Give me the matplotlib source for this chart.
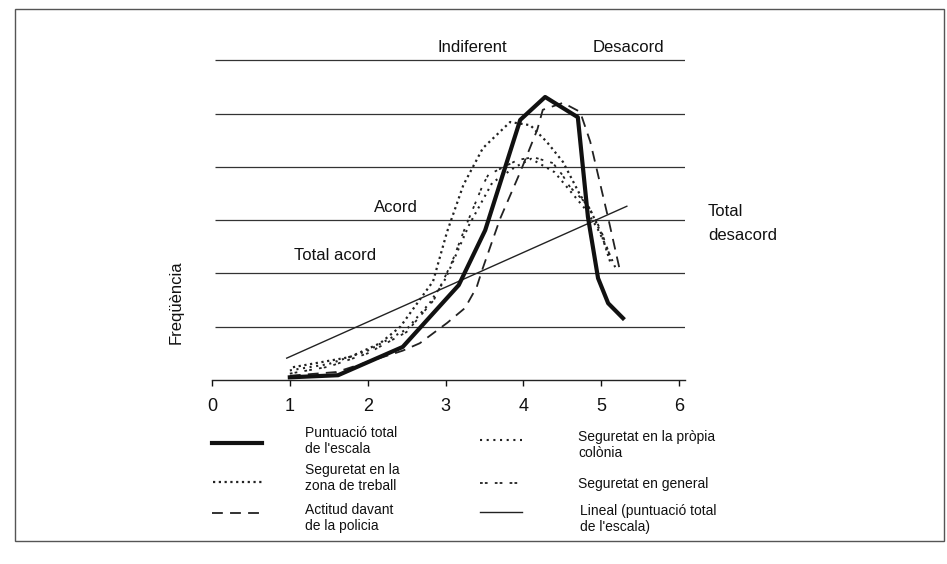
import matplotlib
matplotlib.use("Agg")
import matplotlib.pyplot as plt
from matplotlib.lines import Line2D
from matplotlib.patches import Rectangle

plt.rcParams['font.family'] = ['Liberation Sans', 'DejaVu Sans']

# ---- data ----
total_x = [1.0, 1.62, 2.45, 3.17, 3.51, 3.96, 4.28, 4.70, 4.83, 4.96, 5.09, 5.28]
total_y = [0.05, 0.09, 0.62, 1.78, 2.81, 4.88, 5.31, 4.93, 3.06, 1.91, 1.44, 1.16]

treball_x = [1.04, 1.77, 2.16, 2.42, 2.76, 2.84, 3.02, 3.23, 3.48, 3.83, 4.09, 4.30, 4.51, 4.73, 4.88, 5.00, 5.12]
treball_y = [0.24, 0.43, 0.69, 1.00, 1.69, 1.85, 2.78, 3.66, 4.35, 4.84, 4.78, 4.47, 4.09, 3.47, 3.13, 2.75, 2.20]

colonia_x = [1.0, 1.5, 2.0, 2.5, 2.8, 3.0, 3.3, 3.6, 3.9, 4.1, 4.4, 4.6, 4.8, 4.95, 5.05, 5.2]
colonia_y = [0.18, 0.30, 0.55, 0.95, 1.45, 1.90, 2.90, 3.70, 4.00, 4.15, 3.90, 3.55, 3.20, 2.85, 2.55, 2.05]

general_x = [1.0, 1.5, 2.0, 2.5, 2.85, 3.08, 3.25, 3.48, 3.55, 3.93, 4.13, 4.38, 4.5, 4.6, 4.83, 5.0, 5.12]
general_y = [0.12, 0.25, 0.50, 0.90, 1.50, 2.20, 2.85, 3.66, 3.85, 4.13, 4.18, 4.07, 3.85, 3.62, 3.28, 2.80, 2.30]

policia_x = [1.0, 1.6, 2.45, 2.67, 3.02, 3.25, 3.40, 3.47, 3.70, 3.96, 4.18, 4.25, 4.51, 4.73, 4.86, 5.09, 5.24]
policia_y = [0.08, 0.15, 0.55, 0.69, 1.07, 1.35, 1.74, 2.06, 3.02, 3.90, 4.70, 5.07, 5.20, 5.03, 4.47, 3.04, 2.06]

lineal_x = [0.96, 5.33]
lineal_y = [0.41, 3.26]

grid_levels = [1, 2, 3, 4, 5, 6]
xticks = [0, 1, 2, 3, 4, 5, 6]

W, H = 947, 564
fig = plt.figure(figsize=(W / 100, H / 100), dpi=100)

def fx(px):
    return px / W

def fy(py):
    return 1 - py / H

# axes: x 0 -> 212 px, 6 -> 679 px ; y 0 -> 380 px, 1 unit = 53.3 px
ux = (679 - 212) / 6.0
uy = 53.3
xmax = 6.08
ymax = 6.3
ax = fig.add_axes([fx(212), fy(380), xmax * ux / W, ymax * uy / H])
ax.set_xlim(0, xmax)
ax.set_ylim(0, ymax)
for s in ['top', 'right', 'left']:
    ax.spines[s].set_visible(False)
ax.spines['bottom'].set_linewidth(1.0)
ax.spines['bottom'].set_color('#222222')
ax.set_yticks([])
ax.set_xticks(xticks)
ax.set_xticklabels([str(v) for v in xticks], fontsize=13)
ax.tick_params(axis='x', direction='out', length=4, width=1, pad=9, colors='#111111')
ax.patch.set_alpha(0)

for g in grid_levels:
    ax.plot([0.04, xmax], [g, g], color='#333333', lw=0.9, solid_capstyle='butt')

styles = {
    'total': dict(color='#111111', lw=3.0, ls='-'),
    'treball': dict(color='#222222', lw=1.6, ls=(0, (1, 1.6))),
    'colonia': dict(color='#222222', lw=1.5, ls=(0, (1, 2.2))),
    'general': dict(color='#222222', lw=1.3, ls=(0, (1.5, 1.2, 1.5, 4))),
    'policia': dict(color='#222222', lw=1.3, ls=(0, (6, 4))),
    'lineal': dict(color='#222222', lw=1.0, ls='-'),
}

ax.plot(lineal_x, lineal_y, **styles['lineal'])
ax.plot(general_x, general_y, **styles['general'])
ax.plot(colonia_x, colonia_y, **styles['colonia'])
ax.plot(treball_x, treball_y, **styles['treball'])
ax.plot(policia_x, policia_y, **styles['policia'])
ax.plot(total_x, total_y, **styles['total'])

tkw = dict(fontsize=12, color='#111111', va='center')
fig.text(fx(472), fy(47), 'Indiferent', ha='center', **tkw)
fig.text(fx(628), fy(48), 'Desacord', ha='center', **tkw)
fig.text(fx(396), fy(208), 'Acord', ha='center', **tkw)
fig.text(fx(335), fy(256), 'Total acord', ha='center', **tkw)
fig.text(fx(708), fy(212), 'Total', ha='left', **tkw)
fig.text(fx(708), fy(236), 'desacord', ha='left', **tkw)
fig.text(fx(176), fy(302), 'Freqüència', ha='center', rotation=90, **tkw)

# legend
lkw = dict(fontsize=10, color='#111111', va='center', ha='left', linespacing=1.25)
def sample(x1, x2, y, key):
    st = dict(styles[key])
    if key == 'total':
        st['lw'] = 3.0
    fig.add_artist(Line2D([fx(x1), fx(x2)], [fy(y), fy(y)], transform=fig.transFigure, **st))

sample(212, 262, 443, 'total')
fig.text(fx(305), fy(441), "Puntuació total\nde l'escala", **lkw)
sample(213, 262, 482, 'treball')
fig.text(fx(305), fy(478), "Seguretat en la\nzona de treball", **lkw)
sample(212, 262, 513, 'policia')
fig.text(fx(305), fy(518), "Actitud davant\nde la policia", **lkw)

sample(480, 522, 440, 'colonia')
fig.text(fx(578), fy(445), "Seguretat en la pròpia\ncolònia", **lkw)
sample(480, 522, 483, 'general')
fig.text(fx(578), fy(484), "Seguretat en general", **lkw)
sample(480, 522, 512, 'lineal')
fig.text(fx(580), fy(519), "Lineal (puntuació total\nde l'escala)", **lkw)

# outer frame
fig.add_artist(Rectangle((fx(15), fy(541)), (944 - 15) / W, (541 - 9) / H,
                         transform=fig.transFigure, fill=False, edgecolor='#555555', lw=1.0))

fig.savefig('out.png', dpi=100)
